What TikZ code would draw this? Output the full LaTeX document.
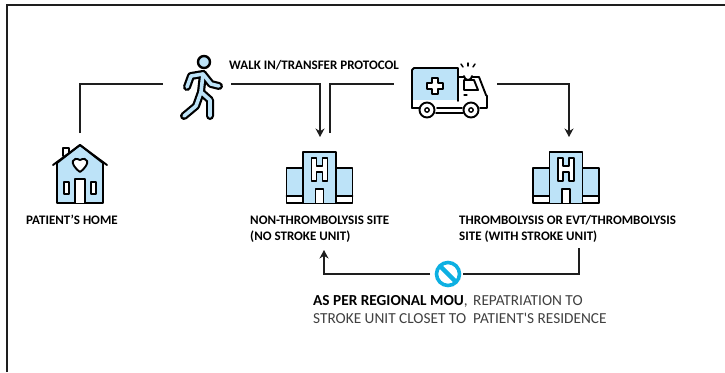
\documentclass[tikz,border=0pt]{standalone}
\usepackage{fontspec}
\usetikzlibrary{arrows.meta}
\setmainfont{Carlito}
\newfontfamily\plainfont{Carlito}
\definecolor{iconblue}{HTML}{BDE3F8}
\definecolor{nocyan}{HTML}{0DB0E2}
\definecolor{linedark}{HTML}{1E1E1E}
\definecolor{textgray}{HTML}{404040}
\tikzset{
  icon/.style={draw=black, line width=1.9pt, line join=round, line cap=round},
  flow/.style={draw=linedark, line width=1.2pt},
  slot/.style={inner sep=0pt, outer sep=0pt},
  lab/.style={inner sep=0pt, anchor=base west, align=left, font=\fontsize{13}{16}\selectfont\bfseries, text=black},
  labthin/.style={lab, font=\fontsize{15.3}{18}\plainfont\selectfont, text=textgray},
}
\newcommand\iconHome {
  \draw[icon, fill=white] (-17, 156) -- ++ (0, -8) -- ++ (6, 0) -- ++ (0, 8) ;
  \draw[icon, fill=iconblue] (-23, 203) -- (-23, 163) -- (0, 145) -- (23, 163) -- (23, 203) -- cycle ;
  \draw[icon] (-27, 165) -- (0, 145) -- (27, 165) ;
  \draw[icon, fill=white] (0, 172) .. controls (-12, 163) and (-7, 156) .. (0, 160) .. controls (7, 156) and (12, 163) .. (0, 172) -- cycle ;
  \draw[icon, fill=white] (-5, 203) -- (-5, 179) -- (5, 179) -- (5, 203) ;
  \draw[icon, fill=white] (-16, 182) rectangle (-11, 194) ;
  \draw[icon, fill=white] (11, 182) rectangle (16, 194) ;
}
\newcommand\iconSite {
  \fill[iconblue] (-33, 168) rectangle (33, 203) ;
  \fill[white] (-33, 196) rectangle (33, 203) ;
  \draw[icon] (-33, 196) -- (33, 196) ;
  \draw[icon] (-33, 168) rectangle (33, 203) ;
  \draw[icon, fill=iconblue] (-16.5, 203) -- (-16.5, 152) -- (16.5, 152) -- (16.5, 203) ;
  \draw[icon, line width=1.4pt, fill=white]
     (-8, 158) -- ++ (5, 0) -- ++ (0, 8) -- ++ (6, 0) -- ++ (0, -8) -- ++ (5, 0)
     -- ++ (0, 23) -- ++ (-5, 0) -- ++ (0, -9) -- ++ (-6, 0) -- ++ (0, 9) -- ++ (-5, 0) -- cycle ;
  \draw[icon, fill=white] (-4, 203) -- (-4, 189) -- (4, 189) -- (4, 203) ;
}
\newcommand\iconWalker {
  \draw[icon, fill=iconblue, line width=2.4pt] (204, 62) circle (6) ;
  \foreach \w/\c in {8/black, 3.6/iconblue} {
    \draw[line width=\w pt, color=\c, line cap=round, line join=round]
       (187, 87) -- (191, 76) -- (203, 74) -- (211, 84) -- (219, 86) ;
    \draw[line width=\w pt, color=\c, line cap=round, line join=round]
       (203, 74) -- (201, 92) -- (210, 100) -- (210, 116) ;
    \draw[line width=\w pt, color=\c, line cap=round, line join=round]
       (201, 92) -- (196, 106) -- (184, 116) ;
  }
}
\newcommand\iconAmbulance {
  \fill[iconblue] (412, 68) rectangle (458, 100) ;
  \draw[icon] (412, 108) -- (412, 70) -- ++ (2, -2) -- (458, 68) -- (458, 101) ;
  \draw[icon] (458, 77) -- (479, 77) -- (486, 95) -- (487, 96) -- (487, 108) -- (480, 108) ;
  \draw[icon] (412, 108) -- (419, 108) ;
  \draw[icon] (437, 108) -- (462, 108) ;
  \draw[icon] (436, 113) -- (463, 113) ;
  \draw[icon] (464, 80) -- (474, 80) -- (478, 90) -- (464, 90) -- cycle ;
  \draw[icon, line width=1.2pt] (464, 95) -- (467, 95) ;
  \draw[icon, line width=1.4pt, fill=white]
     (432, 78) -- ++ (6, 0) -- ++ (0, 5) -- ++ (5, 0) -- ++ (0, 6) -- ++ (-5, 0) -- ++ (0, 5)
     -- ++ (-6, 0) -- ++ (0, -5) -- ++ (-5, 0) -- ++ (0, -6) -- ++ (5, 0) -- cycle ;
  \draw[icon, fill=white] (464, 76) arc (180:0:4) ;
  \draw[icon, line width=1.4pt] (461, 64) -- (463, 67) ;
  \draw[icon, line width=1.4pt] (468, 63) -- (468, 66) ;
  \draw[icon, line width=1.4pt] (475, 64) -- (473, 67) ;
  \draw[icon, fill=white] (427, 110) circle (7.5) ;
  \draw[icon, line width=1.4pt] (427, 110) circle (2.2) ;
  \draw[icon, fill=white] (471, 110) circle (7.5) ;
  \draw[icon, line width=1.4pt] (471, 110) circle (2.2) ;
}
\newcommand\iconNo {
  \draw[nocyan, line width=3.6pt] (448, 274) circle (11.5) ;
  \draw[nocyan, line width=4.4pt] (440, 266) -- (456, 282) ;
}

\begin{document}
\begin{tikzpicture}[>={Stealth[length=8.5pt, width=9pt]}, x=1pt, y=-1pt]
   \useasboundingbox (0, 0) rectangle (725, 372) ;
   \draw[linedark, line width=1.2pt] (7, 372) -- (7, 5) -- (725, 5) ;
   % icons
   \begin{scope}[xshift=80pt]
     \iconHome
   \end{scope}
   \begin{scope}[xshift=319.5pt]
     \iconSite
   \end{scope}
   \begin{scope}[xshift=566pt]
     \iconSite
   \end{scope}
   \iconWalker
   \iconAmbulance
   \iconNo
   % slots the lines run to
   \node[slot, minimum width=68pt, minimum height=40pt] (walker) at (197, 84) {} ;
   \node[slot, minimum width=103pt, minimum height=40pt] (ambulance) at (445.5, 84) {} ;
   \node[slot, minimum width=33pt, minimum height=30pt] (nomark) at (446.5, 274) {} ;
   \coordinate (homeout) at (80, 133) ;
   \coordinate (nositein) at (320, 137) ;
   \coordinate (nositeout) at (330, 133) ;
   \coordinate (nositeback) at (324, 250) ;
   \coordinate (sitein) at (569, 137) ;
   \coordinate (siteout) at (579, 248) ;
   % labels
   \node[lab] (walklab) at (229, 69) {WALK IN/TRANSFER PROTOCOL} ;
   \node[lab] (homelab) at (26, 224) {PATIENT’S HOME} ;
   \node[lab] (nositelab) at (250, 240) {NON-THROMBOLYSIS SITE\\(NO STROKE UNIT)} ;
   \node[lab] (sitelab) at (459, 240) {THROMBOLYSIS OR EVT/THROMBOLYSIS\\SITE (WITH STROKE UNIT)} ;
   \node[labthin] (moulab) at (313, 323) {\textbf{\textcolor{black}{AS PER REGIONAL MOU}},\\STROKE UNIT CLOSET TO} ;
   \node[labthin] (replab) at (473, 323) {REPATRIATION TO\\PATIENT'S RESIDENCE} ;
   % lines
   \draw[flow] (homeout) |- (walker) ;
   \draw[flow, ->] (walker) -| (nositein) ;
   \draw[flow] (nositeout) |- (ambulance) ;
   \draw[flow, ->] (ambulance) -| (sitein) ;
   \draw[flow] (siteout) |- (nomark) ;
   \draw[flow, ->] (nomark) -| (nositeback) ;
\end{tikzpicture}
\end{document}
